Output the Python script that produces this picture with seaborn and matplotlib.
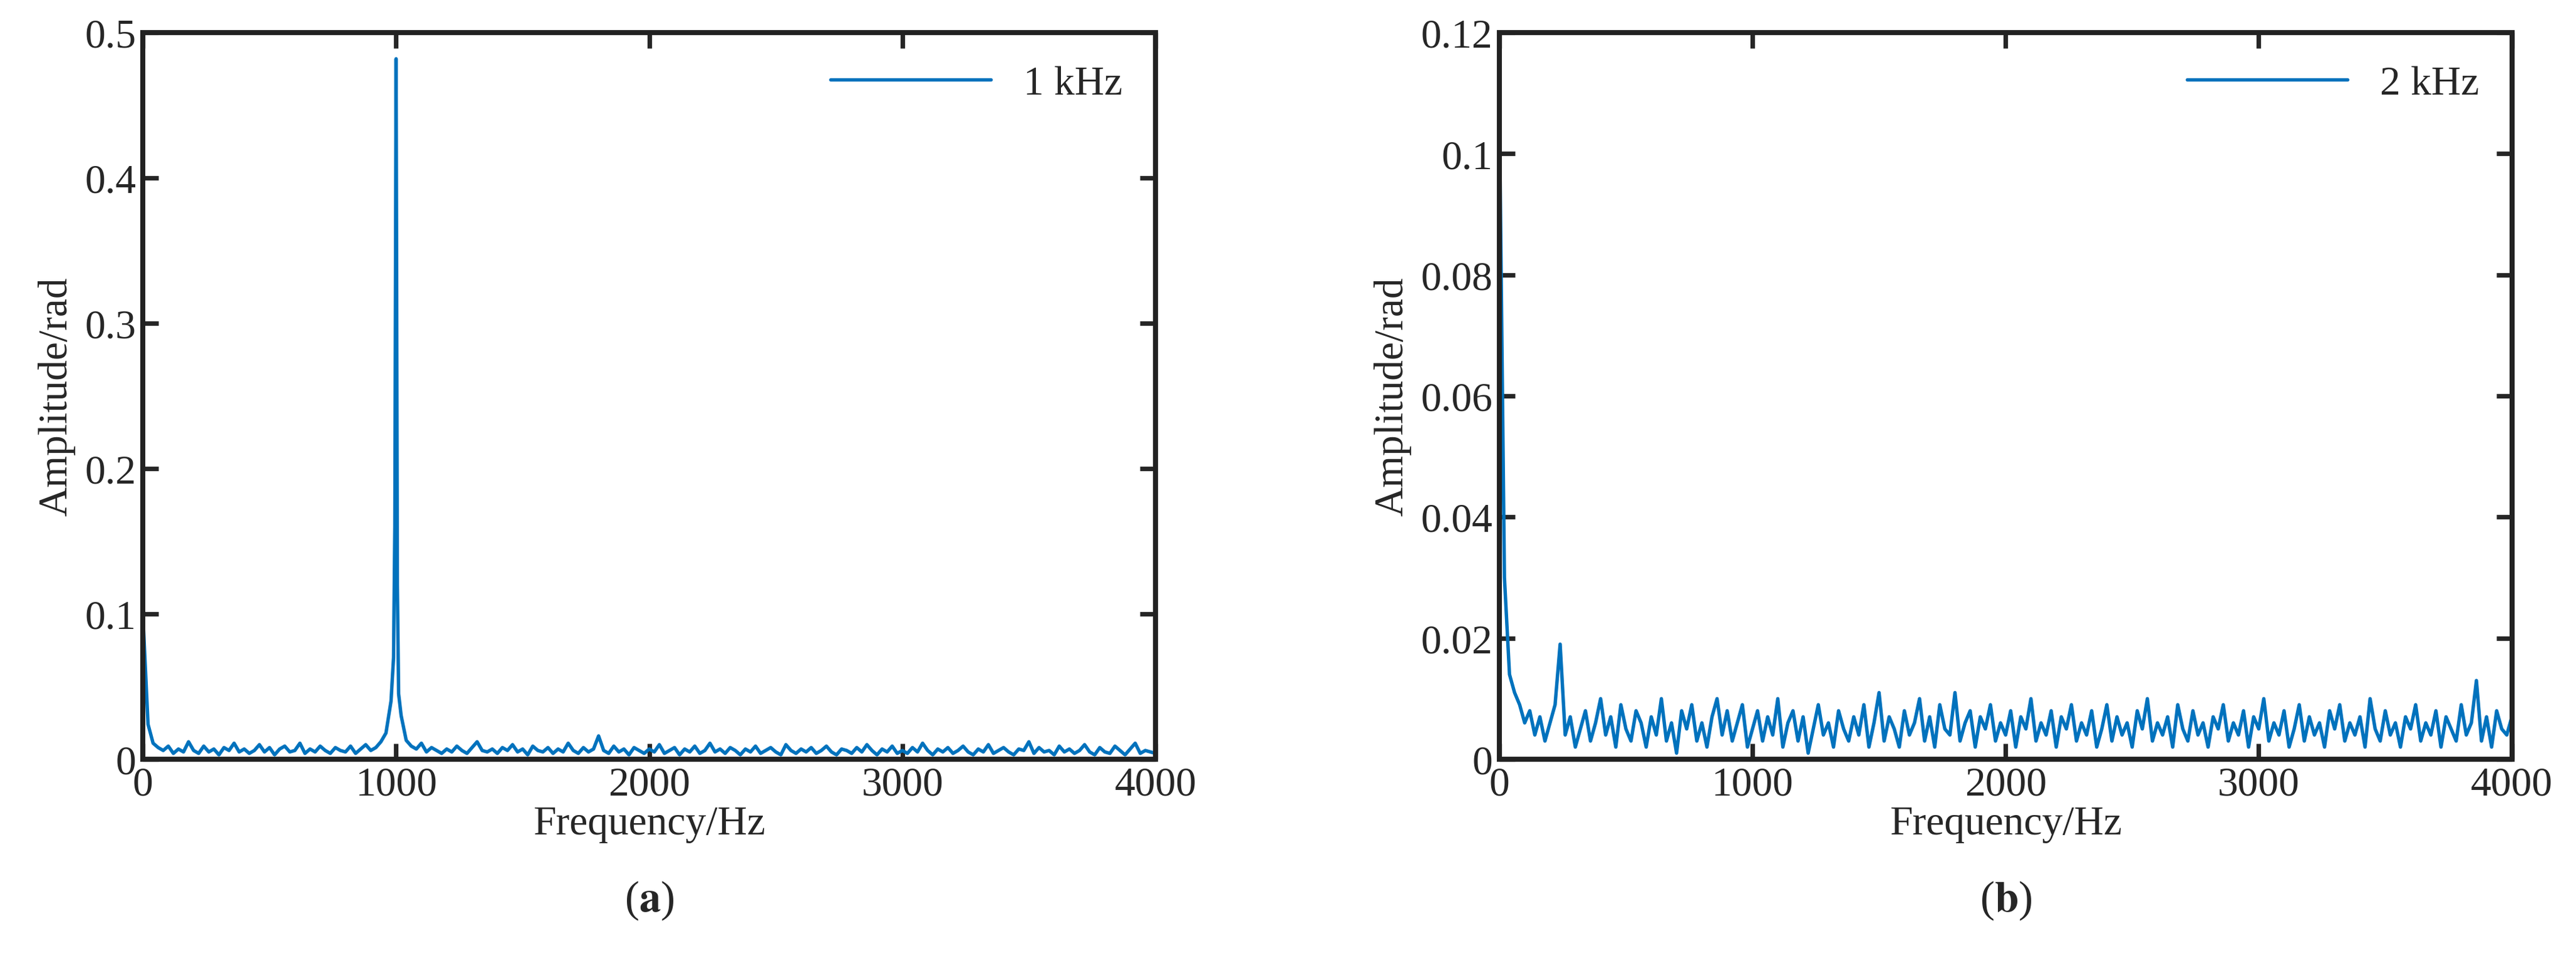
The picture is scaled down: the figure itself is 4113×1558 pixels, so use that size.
import pandas as pd
import matplotlib.pyplot as plt
import seaborn as sns
from matplotlib.ticker import FormatStrFormatter

# spectrum samples every 20 Hz
freq = list(range(0, 4001, 20))

amp_1k = [
    0.098, 0.024, 0.011, 0.008, 0.006, 0.009, 0.004, 0.007, 0.005, 0.012,
    0.006, 0.004, 0.009, 0.005, 0.007, 0.003, 0.008, 0.006, 0.011, 0.005,
    0.007, 0.004, 0.006, 0.010, 0.005, 0.008, 0.003, 0.007, 0.009, 0.005,
    0.006, 0.011, 0.004, 0.007, 0.005, 0.009, 0.006, 0.004, 0.008, 0.006,
    0.005, 0.009, 0.004, 0.007, 0.010, 0.006, 0.008, 0.012, 0.018, 0.040,
    0.482, 0.030, 0.013, 0.009, 0.007, 0.011, 0.005, 0.008, 0.006, 0.004,
    0.007, 0.005, 0.009, 0.006, 0.004, 0.008, 0.012, 0.006, 0.005, 0.007,
    0.004, 0.008, 0.006, 0.010, 0.005, 0.007, 0.003, 0.009, 0.006, 0.005,
    0.008, 0.004, 0.007, 0.005, 0.011, 0.006, 0.004, 0.008, 0.005, 0.007,
    0.016, 0.006, 0.004, 0.009, 0.005, 0.007, 0.003, 0.008, 0.006, 0.004,
    0.007, 0.005, 0.010, 0.004, 0.006, 0.008, 0.003, 0.007, 0.005, 0.009,
    0.004, 0.006, 0.011, 0.005, 0.007, 0.004, 0.008, 0.006, 0.003, 0.007,
    0.005, 0.009, 0.004, 0.006, 0.008, 0.005, 0.003, 0.010, 0.006, 0.004,
    0.007, 0.005, 0.008, 0.004, 0.006, 0.009, 0.005, 0.003, 0.007, 0.006,
    0.004, 0.008, 0.005, 0.010, 0.006, 0.003, 0.007, 0.005, 0.009, 0.004,
    0.006, 0.004, 0.008, 0.005, 0.011, 0.006, 0.003, 0.007, 0.005, 0.008,
    0.004, 0.006, 0.009, 0.005, 0.003, 0.007, 0.005, 0.010, 0.004, 0.006,
    0.008, 0.005, 0.003, 0.007, 0.006, 0.012, 0.004, 0.008, 0.005, 0.006,
    0.003, 0.009, 0.005, 0.007, 0.004, 0.006, 0.010, 0.005, 0.003, 0.008,
    0.005, 0.004, 0.009, 0.006, 0.003, 0.007, 0.011, 0.004, 0.006, 0.005,
    0.004,
]
# extra points around the narrow 1 kHz line
peak_freq = [990, 995, 1005, 1010]
peak_amp = [0.07, 0.16, 0.12, 0.045]

amp_2k = [
    0.108, 0.030, 0.014, 0.011, 0.009, 0.006, 0.008, 0.004, 0.007, 0.003,
    0.006, 0.009, 0.019, 0.004, 0.007, 0.002, 0.005, 0.008, 0.003, 0.006,
    0.010, 0.004, 0.007, 0.002, 0.009, 0.005, 0.003, 0.008, 0.006, 0.002,
    0.007, 0.004, 0.010, 0.003, 0.006, 0.001, 0.008, 0.005, 0.009, 0.003,
    0.006, 0.002, 0.007, 0.010, 0.004, 0.008, 0.003, 0.006, 0.009, 0.002,
    0.005, 0.008, 0.003, 0.007, 0.004, 0.010, 0.002, 0.006, 0.008, 0.003,
    0.007, 0.001, 0.005, 0.009, 0.004, 0.006, 0.002, 0.008, 0.005, 0.003,
    0.007, 0.004, 0.009, 0.002, 0.006, 0.011, 0.003, 0.007, 0.005, 0.002,
    0.008, 0.004, 0.006, 0.010, 0.003, 0.007, 0.002, 0.009, 0.005, 0.004,
    0.011, 0.003, 0.006, 0.008, 0.002, 0.007, 0.005, 0.009, 0.003, 0.006,
    0.004, 0.008, 0.002, 0.007, 0.005, 0.010, 0.003, 0.006, 0.004, 0.008,
    0.002, 0.007, 0.005, 0.009, 0.003, 0.006, 0.004, 0.008, 0.002, 0.005,
    0.009, 0.003, 0.007, 0.004, 0.006, 0.002, 0.008, 0.005, 0.010, 0.003,
    0.006, 0.004, 0.007, 0.002, 0.009, 0.005, 0.003, 0.008, 0.004, 0.006,
    0.002, 0.007, 0.005, 0.009, 0.003, 0.006, 0.004, 0.008, 0.002, 0.007,
    0.005, 0.010, 0.003, 0.006, 0.004, 0.008, 0.002, 0.005, 0.009, 0.003,
    0.007, 0.004, 0.006, 0.002, 0.008, 0.005, 0.009, 0.003, 0.006, 0.004,
    0.007, 0.002, 0.010, 0.005, 0.003, 0.008, 0.004, 0.006, 0.002, 0.007,
    0.005, 0.009, 0.003, 0.006, 0.004, 0.008, 0.002, 0.007, 0.005, 0.003,
    0.009, 0.004, 0.006, 0.013, 0.003, 0.007, 0.002, 0.008, 0.005, 0.004,
    0.007,
]

df1 = pd.DataFrame({"f": freq + peak_freq, "a": amp_1k + peak_amp}).sort_values("f")
df2 = pd.DataFrame({"f": freq, "a": amp_2k})

sns.set_style("ticks")
plt.rcParams['font.family'] = ['Liberation Serif', 'DejaVu Serif']
plt.rcParams['mathtext.fontset'] = 'stix'

fig = plt.figure(figsize=(15.7, 5.95), dpi=262)
ax1 = fig.add_axes([0.0555, 0.222, 0.393, 0.744])
ax2 = fig.add_axes([0.582, 0.222, 0.393, 0.744])

panels = [
    (ax1, df1, "1 kHz", 0.5, 0.1, "a"),
    (ax2, df2, "2 kHz", 0.12, 0.02, "b"),
]
for ax, d, lab, ymax, ystep, tag in panels:
    sns.lineplot(data=d, x="f", y="a", ax=ax, color="#0072BD", lw=1.5, label=lab)
    ax.set_xlim(0, 4000)
    ax.set_ylim(0, ymax)
    ax.set_xticks(range(0, 4001, 1000))
    ax.set_yticks([i * ystep for i in range(int(round(ymax / ystep)) + 1)])
    ax.yaxis.set_major_formatter(FormatStrFormatter('%g'))
    ax.tick_params(direction='in', top=True, right=True, labelsize=18, width=2, length=7, pad=3)
    for s in ax.spines.values():
        s.set_linewidth(2.2)
        s.set_color('#222222')
    ax.set_xlabel("Frequency/Hz", fontsize=18, labelpad=1)
    ax.set_ylabel("Amplitude/rad", fontsize=18, labelpad=4)
    ax.legend(loc='upper right', frameon=False, fontsize=18, handlelength=3.9,
              borderaxespad=0.4)
    ax.text(0.5, -0.165, "(" + r"$\mathbf{" + tag + "}$" + ")", transform=ax.transAxes,
            ha='center', va='top', fontsize=19)

fig.savefig("out.png")
